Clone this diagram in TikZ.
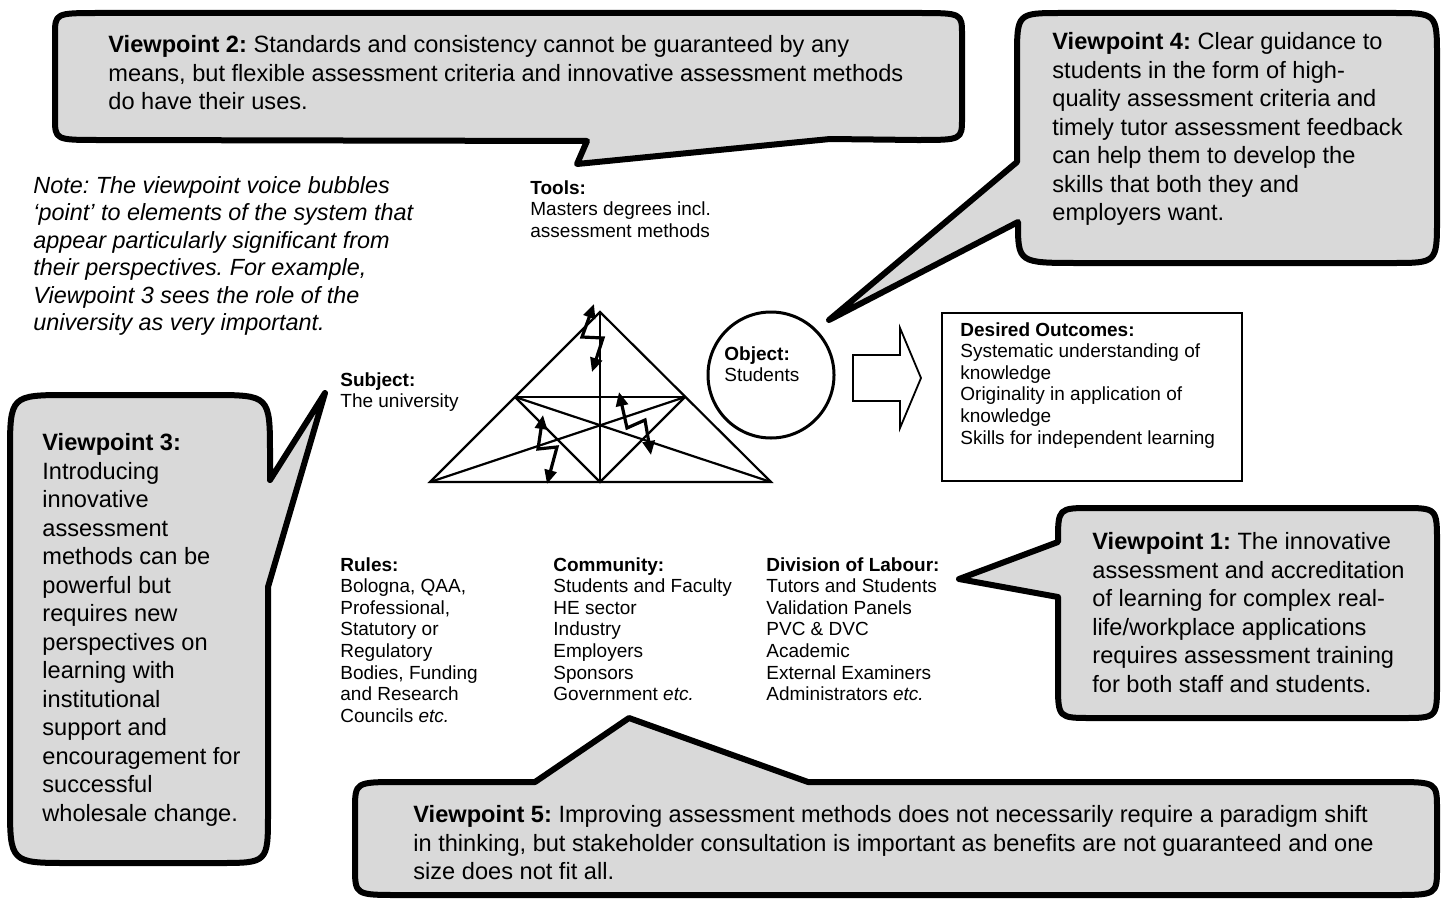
\documentclass[tikz,border=0pt]{standalone}
\usepackage{fontspec}
\setmainfont{Liberation Sans}
\usetikzlibrary{arrows.meta}
\definecolor{bubblegray}{RGB}{217,217,217}
\frenchspacing
\begin{document}
\begin{tikzpicture}[x=0.5pt,y=-0.5pt,
  bubble/.style={draw=black, line width=3pt, fill=bubblegray, line join=round},
  vptext/.style={anchor=north west, inner sep=0pt, align=left, font=\fontsize{11.8}{14.25}\selectfont},
  smalltext/.style={anchor=north west, inner sep=0pt, align=left, font=\fontsize{9.5}{10.8}\selectfont},
  notetext/.style={anchor=north west, inner sep=0pt, align=left, font=\fontsize{11.7}{13.75}\selectfont\itshape},
  triline/.style={line width=1.1pt},
  zigarrow/.style={line width=1.6pt, line join=miter, {Triangle[length=7pt,width=6pt]}-{Triangle[length=7pt,width=6pt]}},
  bigarrow/.style={draw=black, line width=0.9pt, fill=white},
  outbox/.style={draw=black, line width=0.8pt}
]
\useasboundingbox (0,0) rectangle (1443,899);

% ---------- speech bubbles ----------
% Viewpoint 2
\draw[bubble] (55,35) .. controls (55,13) .. (100,13) -- (917,13) .. controls (962,13) .. (962,35)
  -- (962,118) .. controls (962,140) .. (917,140) -- (830,139) -- (577,164) -- (587,141)
  -- (100,140) .. controls (55,140) .. (55,118) -- cycle;
% Viewpoint 4
\draw[bubble] (1017,58) .. controls (1017,13) .. (1062,13) -- (1392,13) .. controls (1437,13) .. (1437,58)
  -- (1437,218) .. controls (1437,263) .. (1392,263) -- (1080,263) .. controls (1018,263) .. (1018,222)
  -- (829,320) -- (1017,162) -- cycle;
% Viewpoint 3
\draw[bubble] (70,395) -- (210,395) .. controls (270,395) .. (270,455) -- (270,480) -- (325,393)
  -- (268,587) -- (268,813) .. controls (268,863) .. (218,863) -- (70,863) .. controls (10,863) .. (10,803)
  -- (10,455) .. controls (10,395) .. (70,395) -- cycle;
% Viewpoint 1
\draw[bubble] (1058,542) .. controls (1058,508) .. (1092,508) -- (1402,508) .. controls (1437,508) .. (1437,543)
  -- (1437,683) .. controls (1437,718) .. (1402,718) -- (1092,718) .. controls (1058,718) .. (1058,683)
  -- (1058,597) -- (959,579) -- cycle;
% Viewpoint 5
\draw[bubble] (355,810) .. controls (355,782) .. (400,782) -- (535,782) -- (629,718) -- (808,782)
  -- (1392,782) .. controls (1437,782) .. (1437,810) -- (1437,867) .. controls (1437,895) .. (1392,895)
  -- (400,895) .. controls (355,895) .. (355,867) -- cycle;

% ---------- bubble texts ----------
\node[vptext] (vp2) at (108,35) {\textbf{Viewpoint 2:} Standards and consistency cannot be guaranteed by any\\ means, but flexible assessment criteria and innovative assessment methods\\ do have their uses.};
\node[vptext] (vp4) at (1052,32) {\textbf{Viewpoint 4:} Clear guidance to\\ students in the form of high-\\ quality assessment criteria and\\ timely tutor assessment feedback\\ can help them to develop the\\ skills that both they and\\ employers want.};
\node[vptext] (vp3) at (42,433) {\textbf{Viewpoint 3:}\\ Introducing\\ innovative\\ assessment\\ methods can be\\ powerful but\\ requires new\\ perspectives on\\ learning with\\ institutional\\ support and\\ encouragement for\\ successful\\ wholesale change.};
\node[vptext] (vp1) at (1092,532) {\textbf{Viewpoint 1:} The innovative\\ assessment and accreditation\\ of learning for complex real-\\ life/workplace applications\\ requires assessment training\\ for both staff and students.};
\node[vptext] (vp5) at (413,805) {\textbf{Viewpoint 5:} Improving assessment methods does not necessarily require a paradigm shift\\ in thinking, but stakeholder consultation is important as benefits are not guaranteed and one\\ size does not fit all.};

% ---------- note ----------
\node[notetext] (note) at (33,176) {Note: The viewpoint voice bubbles\\ ‘point’ to elements of the system that\\ appear particularly significant from\\ their perspectives. For example,\\ Viewpoint 3 sees the role of the\\ university as very important.};

% ---------- activity system labels ----------
\node[smalltext] (tools) at (530,180) {\textbf{Tools:}\\ Masters degrees incl.\\ assessment methods};
\node[smalltext] (subject) at (340,372) {\textbf{Subject:}\\ The university};
\node[smalltext] (rules) at (340,557) {\textbf{Rules:}\\ Bologna, QAA,\\ Professional,\\ Statutory or\\ Regulatory\\ Bodies, Funding\\ and Research\\ Councils \textit{etc.}};
\node[smalltext] (community) at (553,557) {\textbf{Community:}\\ Students and Faculty\\ HE sector\\ Industry\\ Employers\\ Sponsors\\ Government \textit{etc.}};
\node[smalltext] (division) at (766,557) {\textbf{Division of Labour:}\\ Tutors and Students\\ Validation Panels\\ PVC \& DVC\\ Academic\\ External Examiners\\ Administrators \textit{etc.}};

% ---------- object circle ----------
\node[draw=black, line width=1.5pt, circle, minimum size=63pt, inner sep=0pt] (objcirc) at (771,375) {};
\node[smalltext] (object) at (724,346) {\textbf{Object:}\\ Students};

% ---------- big arrow ----------
\draw[bigarrow] (853,355) -- (900,355) -- (900,328) -- (921,378) -- (900,428) -- (900,401) -- (853,401) -- cycle;

% ---------- outcomes box ----------
\node[outbox, anchor=north west, minimum width=150pt, minimum height=84pt, inner sep=0pt] (outcomes) at (941,312) {};
\node[smalltext] (outtext) at (960,322) {\textbf{Desired Outcomes:}\\ Systematic understanding of\\ knowledge\\ Originality in application of\\ knowledge\\ Skills for independent learning};

% ---------- activity triangle ----------
\coordinate (apex) at (600,312);
\coordinate (bl) at (430,482);
\coordinate (br) at (771,482);
\coordinate (bm) at (600,482);
\coordinate (ml) at (515,397);
\coordinate (mr) at (685,397);
\draw[triline] (apex) -- (bl) -- (br) -- cycle;
\draw[triline] (apex) -- (bm);
\draw[triline] (ml) -- (mr);
\draw[triline] (bl) -- (mr);
\draw[triline] (br) -- (ml);
\draw[triline] (ml) -- (bm) -- (mr);

% ---------- zigzag double arrows ----------
\coordinate (z1a) at (594,304); \coordinate (z1b) at (582,337); \coordinate (z1c) at (603,338); \coordinate (z1d) at (592,372);
\draw[zigarrow] (z1a) -- (z1b) -- (z1c) -- (z1d);
\coordinate (z2a) at (543,415); \coordinate (z2b) at (538,449); \coordinate (z2c) at (557,447); \coordinate (z2d) at (547,484);
\draw[zigarrow] (z2a) -- (z2b) -- (z2c) -- (z2d);
\coordinate (z3a) at (619,392); \coordinate (z3b) at (627,428); \coordinate (z3c) at (645,420); \coordinate (z3d) at (651,455);
\draw[zigarrow] (z3a) -- (z3b) -- (z3c) -- (z3d);
\end{tikzpicture}
\end{document}
